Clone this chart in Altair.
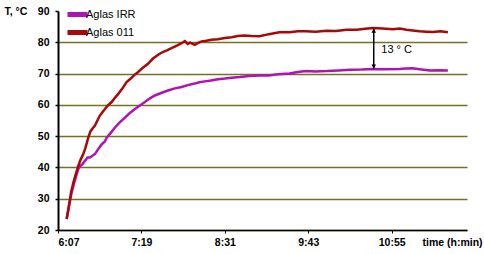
import altair as alt
import pandas as pd

# minutes after 6:07 and temperature (°C)
t_irr = [7.5, 9.5, 11.5, 13.5, 15.5, 17.5, 19, 21, 23, 25.5, 27.6, 30, 32, 35, 38, 40.5, 42, 45, 49, 53,
         57.8, 62, 66.4, 70.7, 75, 79, 83.6, 89, 95, 100, 106.7, 112, 118, 122, 126.7, 132, 138, 144,
         149.8, 157, 165, 174, 182, 190, 200, 207, 214, 222, 232, 242, 252, 262, 272, 282, 295, 300,
         306, 312, 321, 328, 336.5]
v_irr = [23.5, 27.5, 31.5, 34.5, 37, 39.5, 40.4, 41, 42, 43.2, 43.2, 43.8, 44.3, 46, 47.5, 48.3, 49.5,
         50.8, 52.7, 54.3, 55.9, 57.4, 58.7, 59.8, 60.9, 62, 63, 63.8, 64.6, 65.2, 65.7, 66.3, 66.8,
         67.2, 67.5, 67.8, 68.2, 68.4, 68.7, 68.9, 69.2, 69.4, 69.4, 69.8, 70, 70.5, 70.8, 70.7, 70.8,
         71, 71.2, 71.3, 71.5, 71.4, 71.5, 71.6, 71.7, 71.4, 71, 71.1, 71]

t_011 = [7.5, 9.5, 11.5, 13.5, 15.5, 17.5, 19.5, 21.5, 23.5, 25, 26.1, 28, 30, 31.9, 34, 36, 38, 40.5,
         43, 46.3, 49, 52, 55.5, 59.2, 63, 66, 69.2, 73, 77.9, 82, 86.5, 90, 94, 98, 103, 108, 109.5,
         112, 114, 118, 121, 124, 128, 132.5, 138, 144, 150, 155, 161, 167, 174, 182, 191, 200, 207,
         214, 222, 232, 240, 249, 258, 265, 272, 280, 289, 295, 300.7, 306, 312, 318, 323.6, 330, 336.5]
v_011 = [23.5, 28, 32.5, 35.5, 38, 40.5, 42.5, 44, 46, 48, 49.5, 51.5, 52.5, 53.4, 55, 56.5, 57.5, 58.7,
         59.8, 60.9, 62.2, 63.5, 65.2, 67.3, 68.5, 69.6, 70.5, 71.8, 73.2, 74.8, 76, 76.8, 77.4, 78.1,
         79, 80, 80.4, 79.5, 79.9, 79.2, 79.8, 80.3, 80.5, 80.8, 81, 81.4, 81.6, 82, 82.2, 82, 81.9, 82.6,
         83.2, 83.2, 83.5, 83.5, 83.4, 83.7, 83.6, 84, 84, 84.3, 84.6, 84.4, 84.2, 84.4, 84, 83.8, 83.5,
         83.4, 83.3, 83.5, 83.2]

series = ["Aglas IRR", "Aglas 011"]
colors = ["#B012B4", "#A80808"]
x_ticks = [0, 72, 144, 216, 288]          # 6:07, 7:19, 8:31, 9:43, 10:55
y_ticks = [20, 30, 40, 50, 60, 70, 80, 90]
START = 367  # 6:07 in minutes of day

# annotation: temperature gap
gap_t = 272.5
gap_low, gap_high = 71.6, 84.3
gap_label_t, gap_label_v = 279, 77.6
gap_label = "13 ° C"

df_irr = pd.DataFrame({"t": t_irr, "v": v_irr, "s": series[0]})
df_011 = pd.DataFrame({"t": t_011, "v": v_011, "s": series[1]})

FONT = "Liberation Sans"

x_scale = alt.Scale(domain=[0, 353], nice=False, zero=False)
y_scale = alt.Scale(domain=[20, 90], nice=False, zero=False)

x_axis = alt.Axis(values=x_ticks,
                  labelExpr=f"floor((datum.value+{START})/60) + ':' + ((((datum.value+{START})%60) < 10) ? '0' : '') + ((datum.value+{START})%60)",
                  title="time (h:min)", titleX=364, titleY=12, titleAlign="left",
                  titleBaseline="middle", titleAngle=0,
                  titleFont=FONT, titleFontSize=10.5, titleFontWeight="bold",
                  labelFont=FONT, labelFontSize=10.5, labelFontWeight="bold",
                  labelColor="black", labelPadding=4,
                  domainColor="black", domainWidth=1.5,
                  tickColor="black", tickSize=3, tickWidth=1,
                  grid=False)
y_axis = alt.Axis(values=y_ticks, labelOverlap=False,
                  title="T, °C", titleX=-54, titleY=0, titleAlign="left",
                  titleBaseline="middle", titleAngle=0,
                  titleFont=FONT, titleFontSize=10.5, titleFontWeight="bold",
                  labelFont=FONT, labelFontSize=10.5, labelFontWeight="bold",
                  labelColor="black", labelPadding=6,
                  domainColor="black", domainWidth=2,
                  tickColor="black", tickSize=3, tickWidth=1.5,
                  grid=True, gridColor="#727222", gridWidth=1.5,
                  gridOpacity={"condition": {"test": "datum.value === 90", "value": 0}, "value": 1})

x_enc = alt.X("t:Q", scale=x_scale, axis=x_axis)
y_enc = alt.Y("v:Q", scale=y_scale, axis=y_axis)

color_enc = alt.Color("s:N",
                      scale=alt.Scale(domain=series, range=colors),
                      legend=alt.Legend(title=None, orient="none", legendX=12, legendY=-4,
                                        symbolType="M-2,0H2", symbolSize=100,
                                        symbolStrokeWidth=5, symbolOpacity=1,
                                        labelFont=FONT, labelFontSize=11, labelColor="black",
                                        labelOffset=1, rowPadding=-7, padding=0))

line_irr = alt.Chart(df_irr).mark_line(strokeWidth=2.5).encode(x=x_enc, y=y_enc, color=color_enc)
line_011 = alt.Chart(df_011).mark_line(strokeWidth=2.5).encode(x=x_enc, y=y_enc, color=color_enc)

rule_df = pd.DataFrame({"t": [gap_t], "v": [gap_low], "v2": [gap_high]})
top_df = pd.DataFrame({"t": [gap_t], "v": [gap_high]})
bot_df = pd.DataFrame({"t": [gap_t], "v": [gap_low]})
lab_df = pd.DataFrame({"t": [gap_label_t], "v": [gap_label_v], "txt": [gap_label]})

arrow = alt.Chart(rule_df).mark_rule(color="black", strokeWidth=1.5).encode(
    x=x_enc, y=y_enc, y2="v2:Q")
head_top = alt.Chart(top_df).mark_point(shape="triangle-up", filled=True, color="black",
                                        size=22, opacity=1, yOffset=2).encode(x=x_enc, y=y_enc)
head_bot = alt.Chart(bot_df).mark_point(shape="triangle-down", filled=True, color="black",
                                        size=22, opacity=1, yOffset=-2).encode(x=x_enc, y=y_enc)
label = alt.Chart(lab_df).mark_text(font=FONT, fontSize=11, align="left", baseline="middle",
                                    color="black").encode(x=x_enc, y=y_enc, text="txt:N")

chart = alt.layer(line_irr, line_011, arrow, head_top, head_bot, label).properties(
    width=409, height=219,
    autosize=alt.AutoSizeParams(type="none"),
    padding={"left": 58, "top": 11, "right": 17, "bottom": 24},
    background="white",
).configure_view(stroke=None)

chart.save("out.html", embed_options={"renderer": "svg", "actions": False})
